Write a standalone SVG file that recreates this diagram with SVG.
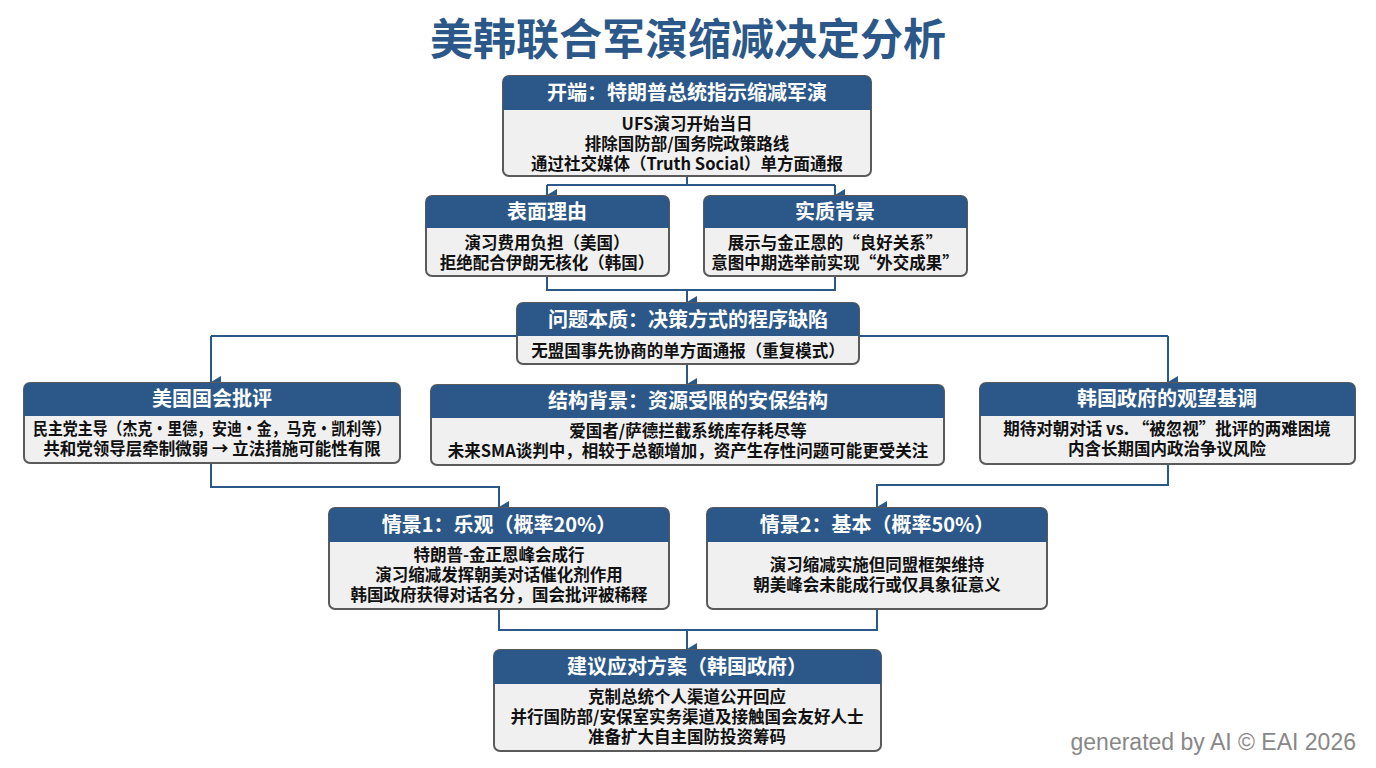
<svg xmlns="http://www.w3.org/2000/svg" width="1376" height="768" viewBox="0 0 1376 768">
<style>
text{font-family:"Noto Sans CJK SC","Liberation Sans",sans-serif;font-weight:bold;text-anchor:middle}
.b{fill:#f0f0f0;stroke:#5a5a5a;stroke-width:2}
.h{fill:#2b5889}
.ht{fill:#fff;font-size:20px}
.t{fill:#111;font-size:16.5px}
.c{fill:none;stroke:#2b5889;stroke-width:2}
</style>
<defs><marker id="a" markerWidth="12" markerHeight="12" refX="6" refY="10" orient="auto" markerUnits="userSpaceOnUse"><path d="M0,0 L12,0 L6,10 Z" fill="#2b5889"/></marker></defs>
<rect width="1376" height="768" fill="#fff"/>
<text x="688" y="55" style="font-size:43px;fill:#2b5889">美韩联合军演缩减决定分析</text>
<g id="connectors">
<path class="c" d="M687,176 V185 M547,185 H835"/>
<path class="c" d="M547,185 V195" marker-end="url(#a)"/><path class="c" d="M835,185 V195" marker-end="url(#a)"/>
<path class="c" d="M547,276 V290 H835 V276 M687,290 V302" marker-end="url(#a)"/>
<path class="c" d="M211,336 H1168"/>
<path class="c" d="M211,336 V382" marker-end="url(#a)"/><path class="c" d="M1168,336 V382" marker-end="url(#a)"/>
<path class="c" d="M687,364 V384" marker-end="url(#a)"/>
<path class="c" d="M211,463 V487 H499 V507" marker-end="url(#a)"/>
<path class="c" d="M1168,464 V485 H877 V507" marker-end="url(#a)"/>
<path class="c" d="M499,609 V630 H877 V609 M687,630 V649" marker-end="url(#a)"/>
</g>
<g id="n1"><rect class="b" x="503" y="76" width="368" height="100" rx="6"/><path class="h" d="M509,76 H865 A6,6 0 0 1 871,82 V110 H503 V82 A6,6 0 0 1 509,76 Z"/>
<text class="ht" x="687" y="100">开端：特朗普总统指示缩减军演</text>
<text class="t" x="687" y="130">UFS演习开始当日</text><text class="t" x="687" y="150">排除国防部/国务院政策路线</text><text class="t" x="687" y="170">通过社交媒体（Truth Social）单方面通报</text></g>
<g id="n2"><rect class="b" x="426" y="196" width="243" height="80" rx="6"/><path class="h" d="M432,196 H663 A6,6 0 0 1 669,202 V228 H426 V202 A6,6 0 0 1 432,196 Z"/>
<text class="ht" x="547" y="219">表面理由</text><text class="t" x="547" y="249">演习费用负担（美国）</text><text class="t" x="547" y="269">拒绝配合伊朗无核化（韩国）</text></g>
<g id="n3"><rect class="b" x="704" y="196" width="263" height="80" rx="6"/><path class="h" d="M710,196 H961 A6,6 0 0 1 967,202 V228 H704 V202 A6,6 0 0 1 710,196 Z"/>
<text class="ht" x="835" y="219">实质背景</text><text class="t" x="835" y="249">展示与金正恩的“良好关系”</text><text class="t" x="835" y="269">意图中期选举前实现“外交成果”</text></g>
<g id="n4"><rect class="b" x="517" y="303" width="342" height="61" rx="6"/><path class="h" d="M523,303 H853 A6,6 0 0 1 859,309 V336 H517 V309 A6,6 0 0 1 523,303 Z"/>
<text class="ht" x="688" y="327">问题本质：决策方式的程序缺陷</text><text class="t" x="688" y="357">无盟国事先协商的单方面通报（重复模式）</text></g>
<g id="n5"><rect class="b" x="24" y="383" width="376" height="80" rx="6"/><path class="h" d="M30,383 H394 A6,6 0 0 1 400,389 V416 H24 V389 A6,6 0 0 1 30,383 Z"/>
<text class="ht" x="212" y="406">美国国会批评</text><text class="t" x="212" y="435" textLength="358" lengthAdjust="spacingAndGlyphs">民主党主导（杰克·里德，安迪·金，马克·凯利等）</text><text class="t" x="212" y="455">共和党领导层牵制微弱 → 立法措施可能性有限</text></g>
<g id="n6"><rect class="b" x="431" y="385" width="513" height="80" rx="6"/><path class="h" d="M437,385 H938 A6,6 0 0 1 944,391 V418 H431 V391 A6,6 0 0 1 437,385 Z"/>
<text class="ht" x="688" y="408">结构背景：资源受限的安保结构</text><text class="t" x="688" y="437">爱国者/萨德拦截系统库存耗尽等</text><text class="t" x="688" y="457">未来SMA谈判中，相较于总额增加，资产生存性问题可能更受关注</text></g>
<g id="n7"><rect class="b" x="980" y="383" width="375" height="81" rx="6"/><path class="h" d="M986,383 H1349 A6,6 0 0 1 1355,389 V416 H980 V389 A6,6 0 0 1 986,383 Z"/>
<text class="ht" x="1167" y="406">韩国政府的观望基调</text><text class="t" x="1167" y="435">期待对朝对话 vs. “被忽视”批评的两难困境</text><text class="t" x="1167" y="455">内含长期国内政治争议风险</text></g>
<g id="n8"><rect class="b" x="329" y="508" width="340" height="101" rx="6"/><path class="h" d="M335,508 H663 A6,6 0 0 1 669,514 V542 H329 V514 A6,6 0 0 1 335,508 Z"/>
<text class="ht" x="499" y="532">情景1：乐观（概率20%）</text><text class="t" x="499" y="561">特朗普-金正恩峰会成行</text><text class="t" x="499" y="581">演习缩减发挥朝美对话催化剂作用</text><text class="t" x="499" y="601">韩国政府获得对话名分，国会批评被稀释</text></g>
<g id="n9"><rect class="b" x="707" y="508" width="340" height="101" rx="6"/><path class="h" d="M713,508 H1041 A6,6 0 0 1 1047,514 V542 H707 V514 A6,6 0 0 1 713,508 Z"/>
<text class="ht" x="877" y="532">情景2：基本（概率50%）</text><text class="t" x="877" y="571">演习缩减实施但同盟框架维持</text><text class="t" x="877" y="591">朝美峰会未能成行或仅具象征意义</text></g>
<g id="n10"><rect class="b" x="494" y="650" width="387" height="101" rx="6"/><path class="h" d="M500,650 H875 A6,6 0 0 1 881,656 V684 H494 V656 A6,6 0 0 1 500,650 Z"/>
<text class="ht" x="687" y="674">建议应对方案（韩国政府）</text><text class="t" x="687" y="703">克制总统个人渠道公开回应</text><text class="t" x="687" y="723">并行国防部/安保室实务渠道及接触国会友好人士</text><text class="t" x="687" y="743">准备扩大自主国防投资筹码</text></g>
<text x="1356" y="750" style="font-family:'Liberation Sans',sans-serif;font-weight:normal;font-size:23px;fill:#888;text-anchor:end">generated by AI © EAI 2026</text>
</svg>
